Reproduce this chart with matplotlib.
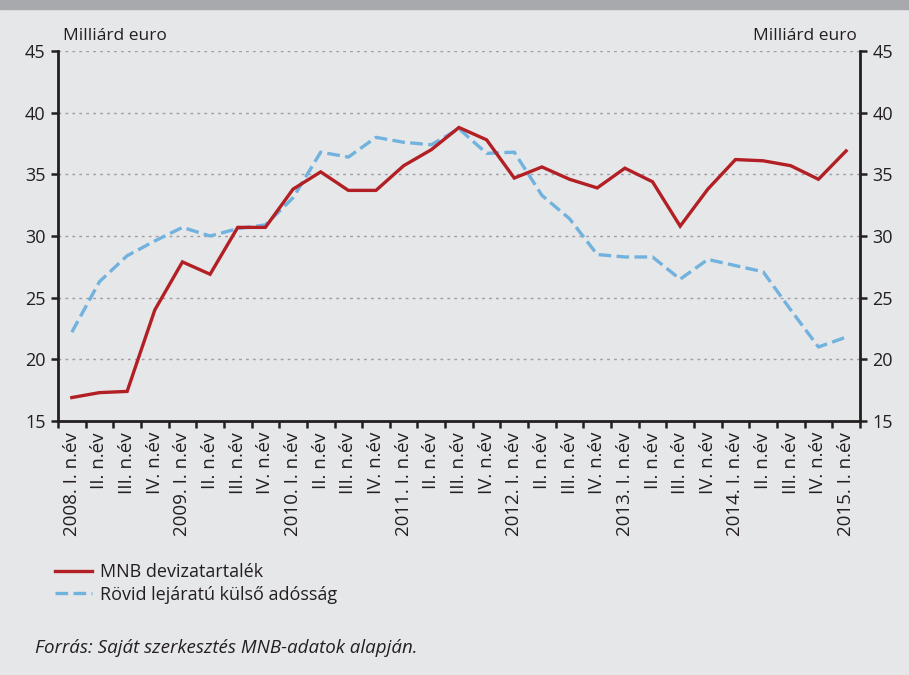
import numpy as np
import matplotlib.pyplot as plt
from matplotlib.lines import Line2D

plt.rcParams['font.family'] = ['Open Sans', 'DejaVu Sans']

years = [2008, 2009, 2010, 2011, 2012, 2013, 2014, 2015]
quarters = ['I.', 'II.', 'III.', 'IV.']

mnb = [16.9, 17.3, 17.4, 24.0, 27.9, 26.9, 30.7, 30.7, 33.8, 35.2,
       33.7, 33.7, 35.7, 37.0, 38.8, 37.8, 34.7, 35.6, 34.6, 33.9,
       35.5, 34.4, 30.8, 33.8, 36.2, 36.1, 35.7, 34.6, 36.9]
rovid = [22.2, 26.3, 28.4, 29.6, 30.7, 30.0, 30.6, 30.9, 33.1, 36.8,
         36.4, 38.0, 37.6, 37.4, 38.7, 36.7, 36.8, 33.3, 31.4, 28.5,
         28.3, 28.3, 26.5, 28.1, 27.6, 27.1, 24.0, 21.0, 21.8]

labels = []
for i in range(len(mnb)):
    y = years[i // 4]
    q = quarters[i % 4]
    if i % 4 == 0:
        labels.append(f'{y}. {q} n.év')
    else:
        labels.append(f'{q} n.év')

bg = '#e6e7e9'
red = '#b21f24'
blue = '#72b2de'
dark = '#231f20'

fig = plt.figure(figsize=(9.09, 6.75), dpi=100, facecolor=bg)
ax = fig.add_axes([0.0638, 0.3763, 0.8822, 0.5481])
ax.set_facecolor(bg)

# grey band on top
fig.patches.append(plt.Rectangle((0, 1 - 9 / 675), 1, 9 / 675, transform=fig.transFigure,
                                 color='#a7a9ac', zorder=0))

x = np.arange(len(mnb))
ax.plot(x, mnb, color=red, lw=2.4, solid_joinstyle='miter', zorder=3)
ax.plot(x, rovid, color=blue, lw=2.4, dashes=(3.8, 1.6), zorder=2)

ax.set_xlim(-0.5, len(mnb) - 0.5)
ax.set_ylim(15, 45)
ax.set_yticks(range(15, 46, 5))
for v in range(20, 46, 5):
    ax.axhline(v, color='#9d9fa2', lw=1, ls=(0, (2, 3)), zorder=1)

ax.set_xticks(x)
ax.set_xticklabels(labels, rotation=90, fontsize=13.5, color=dark)
ax.set_xticks(np.arange(-0.5, len(mnb)), minor=True)
ax.tick_params(axis='x', which='major', length=0, pad=8)
ax.tick_params(axis='x', which='minor', length=5, width=1.8, color=dark, direction='out')
ax.tick_params(axis='y', length=5, width=1.8, color=dark, labelsize=13, labelcolor=dark, pad=4)

for s in ['top', 'right']:
    ax.spines[s].set_visible(False)
for s in ['left', 'bottom']:
    ax.spines[s].set_linewidth(2)
    ax.spines[s].set_color(dark)

ax2 = ax.twinx()
ax2.set_ylim(15, 45)
ax2.set_yticks(range(15, 46, 5))
ax2.tick_params(axis='y', length=5, width=1.8, color=dark, labelsize=13, labelcolor=dark, pad=4)
for s in ['top', 'left', 'bottom']:
    ax2.spines[s].set_visible(False)
ax2.spines['right'].set_linewidth(2)
ax2.spines['right'].set_color(dark)

fig.text(63 / 909, 1 - 36 / 675, 'Milliárd euro', fontsize=12.5, color=dark, va='center', ha='left')
fig.text(857 / 909, 1 - 36 / 675, 'Milliárd euro', fontsize=12.5, color=dark, va='center', ha='right')

handles = [Line2D([], [], color=red, lw=2.4),
           Line2D([], [], color=blue, lw=2.4, dashes=(3.8, 1.6))]
fig.legend(handles, ['MNB devizatartalék', 'Rövid lejáratú külső adósság'],
           loc='upper left', bbox_to_anchor=(55 / 909, 1 - 563 / 675),
           frameon=False, fontsize=13, handlelength=2.05, handletextpad=0.45,
           labelspacing=0.25, borderaxespad=0, borderpad=0, labelcolor=dark)

fig.text(35 / 909, 1 - 648 / 675, 'Forrás: Saját szerkesztés MNB-adatok alapján.',
         fontsize=13.5, style='italic', color=dark, va='center', ha='left')

fig.savefig('out.png', dpi=100, facecolor=bg)
